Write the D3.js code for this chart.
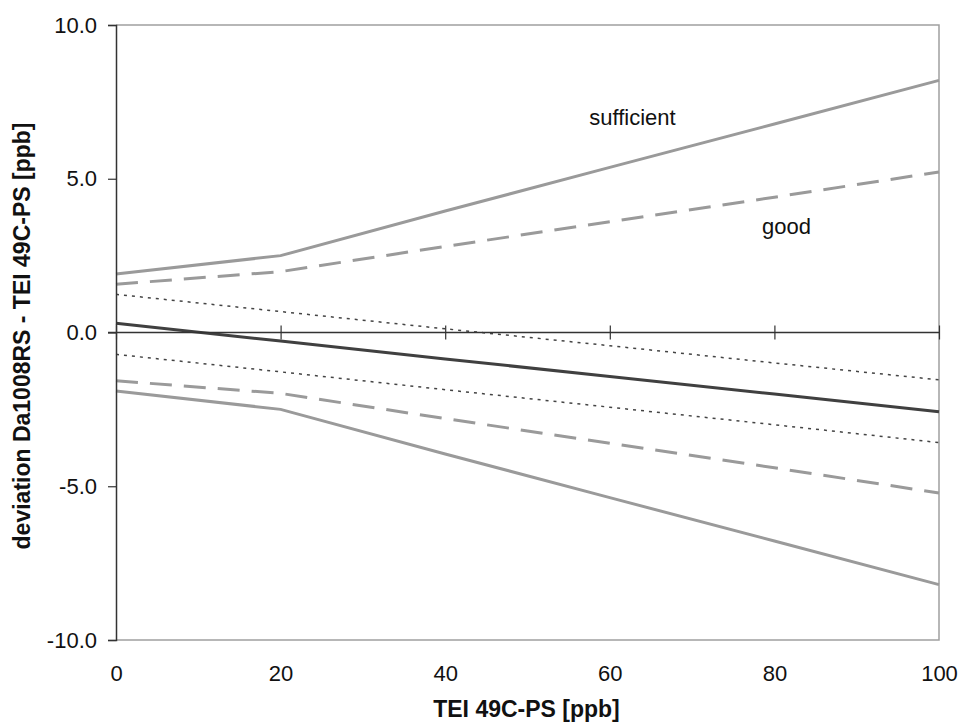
<!DOCTYPE html>
<html>
<head>
<meta charset="utf-8">
<script src="https://cdn.jsdelivr.net/npm/d3@7"></script>
<style>
  body { margin: 0; background: #fff; }
  svg text { font-family: "Liberation Sans", Arial, sans-serif; fill: #111; }
</style>
</head>
<body>
<div id="chart"></div>
<script>
// values
const xValues = [0, 20, 40, 60, 80, 100];
const sufficientUpper = [1.9, 2.5, 3.95, 5.37, 6.78, 8.2];
const sufficientLower = [-1.9, -2.5, -3.95, -5.37, -6.78, -8.2];
const goodUpper = [1.57, 1.98, 2.8, 3.6, 4.4, 5.22];
const goodLower = [-1.57, -1.98, -2.8, -3.6, -4.4, -5.22];
const dottedUpper = [1.24, 0.68, 0.12, -0.43, -0.99, -1.54];
const dottedLower = [-0.71, -1.28, -1.86, -2.43, -3.0, -3.58];
const regression = [0.3, -0.28, -0.86, -1.43, -2.0, -2.58];
const yTicks = [-10, -5, 0, 5, 10];
const xTicks = [0, 20, 40, 60, 80, 100];

const width = 961, height = 722;
const margin = { top: 25, right: 22, bottom: 82, left: 116 };
const w = width - margin.left - margin.right;
const h = height - margin.top - margin.bottom;

// plain hyphen for negative numbers, like the original
const fmt = d3.formatLocale({ decimal: ".", thousands: ",", grouping: [3], currency: ["", ""], minus: "-" }).format(".1f");

const svg = d3.select("#chart").append("svg")
  .attr("width", width)
  .attr("height", height)
  .append("g")
  .attr("transform", "translate(" + margin.left + "," + margin.top + ")");

const x = d3.scaleLinear().domain([0, 100]).range([0, w]);
const y = d3.scaleLinear().domain([-10, 10]).range([h, 0]);

// frame (grey on top, right, bottom)
svg.append("path")
  .attr("d", "M0," + y(10) + "H" + x(100) + "V" + y(-10) + "H0")
  .attr("fill", "none")
  .attr("stroke", "#a0a0a0")
  .attr("stroke-width", 1.5);

// series
const line = d3.line().x((d, i) => x(xValues[i])).y(d => y(d));
const series = [
  { values: sufficientUpper, color: "#9a9a9a", width: 3, dash: null },
  { values: sufficientLower, color: "#9a9a9a", width: 3, dash: null },
  { values: goodUpper, color: "#9a9a9a", width: 3, dash: "22,12" },
  { values: goodLower, color: "#9a9a9a", width: 3, dash: "22,12" },
  { values: dottedUpper, color: "#444", width: 1.5, dash: "3,5" },
  { values: dottedLower, color: "#444", width: 1.5, dash: "3,5" },
  { values: regression, color: "#404040", width: 3, dash: null }
];
svg.selectAll(".series")
  .data(series)
  .enter()
  .append("path")
  .attr("class", "series")
  .attr("d", d => line(d.values))
  .attr("fill", "none")
  .attr("stroke", d => d.color)
  .attr("stroke-width", d => d.width)
  .attr("stroke-dasharray", d => d.dash);

// Y axis
const yAxis = svg.append("g")
  .call(d3.axisLeft(y).tickValues(yTicks).tickFormat(fmt).tickSize(8).tickPadding(11));
yAxis.select(".domain").attr("stroke", "#333").attr("stroke-width", 1.5);
yAxis.selectAll(".tick line").attr("stroke", "#333").attr("stroke-width", 1.2);
yAxis.selectAll("text").style("font-size", "22px").attr("fill", "#111");

// X axis line through zero, ticks crossing
const xAxis = svg.append("g")
  .attr("transform", "translate(0," + y(0) + ")")
  .call(d3.axisBottom(x).tickValues(xTicks).tickSizeOuter(0).tickFormat(""));
xAxis.select(".domain").attr("stroke", "#333").attr("stroke-width", 1.5)
  .attr("d", "M-8,0H" + x(100));
xAxis.selectAll(".tick line").attr("y1", -7).attr("y2", 7)
  .attr("stroke", "#333").attr("stroke-width", 1.2);

// X tick labels along the bottom
const xLabels = svg.append("g")
  .attr("transform", "translate(0," + h + ")")
  .call(d3.axisBottom(x).tickValues(xTicks).tickSize(0).tickPadding(25));
xLabels.select(".domain").remove();
xLabels.selectAll("text").style("font-size", "22px").attr("fill", "#111");

// axis titles
svg.append("text")
  .attr("x", x(50) - 1)
  .attr("y", h + 77)
  .attr("text-anchor", "middle")
  .style("font-size", "23px")
  .style("font-weight", "bold")
  .text("TEI 49C-PS [ppb]");

svg.append("text")
  .attr("transform", "translate(" + (30 - margin.left) + "," + (336 - margin.top) + ") rotate(-90)")
  .attr("text-anchor", "middle")
  .style("font-size", "23px")
  .style("font-weight", "bold")
  .text("deviation Da1008RS - TEI 49C-PS [ppb]");

// annotations
svg.append("text")
  .attr("x", x(57.5))
  .attr("y", y(6.75))
  .style("font-size", "22px")
  .text("sufficient");

svg.append("text")
  .attr("x", x(78.5))
  .attr("y", y(3.2))
  .style("font-size", "22px")
  .text("good");
</script>
</body>
</html>
